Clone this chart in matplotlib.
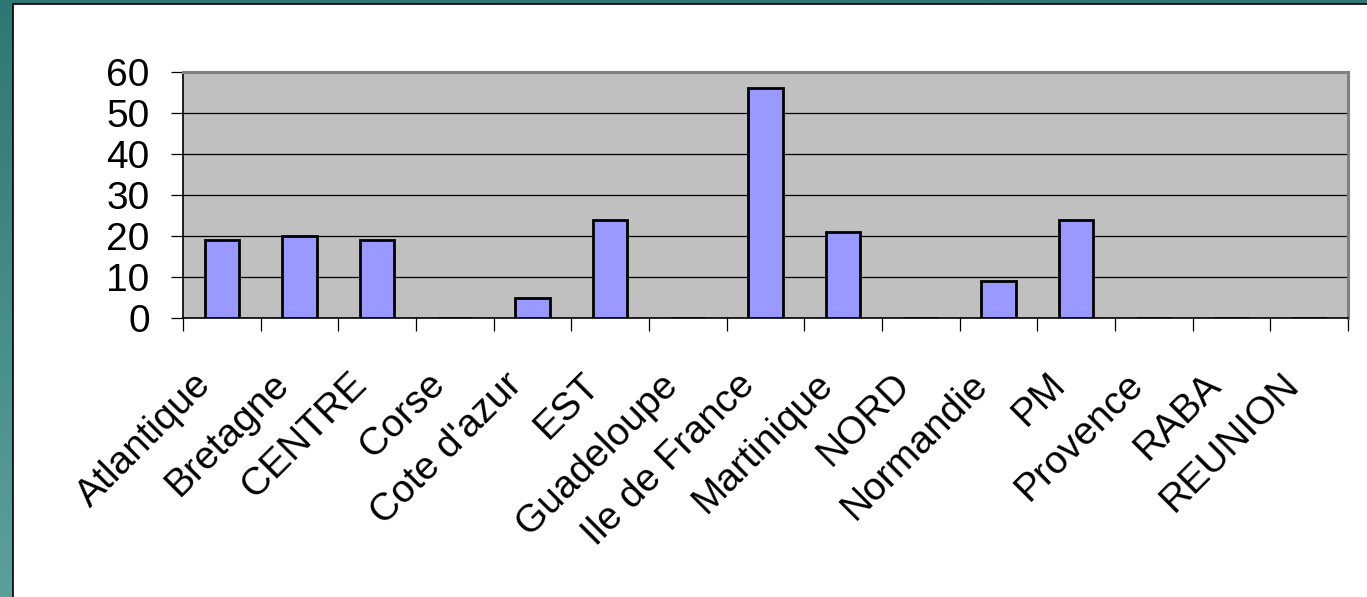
import matplotlib.pyplot as plt
import numpy as np
from matplotlib.patches import Rectangle
from matplotlib.transforms import ScaledTranslation

plt.rcParams['font.family'] = ['Liberation Sans', 'DejaVu Sans']

# Data
regions = ["Atlantique", "Bretagne", "CENTRE", "Corse", "Cote d'azur", "EST",
           "Guadeloupe", "Ile de France", "Martinique", "NORD", "Normandie",
           "PM", "Provence", "RABA", "REUNION"]
counts = [19, 20, 19, 0, 5, 24, 0, 56, 21, 0, 9, 24, 0, 0, 0]
yticks = [0, 10, 20, 30, 40, 50, 60]

W, H = 1367, 597
fig = plt.figure(figsize=(W / 100, H / 100), dpi=100)

# slide-style background: teal strip on left and top
bg = fig.add_axes([0, 0, 1, 1], zorder=-10)
bg.set_axis_off()
bg.set_xlim(0, W)
bg.set_ylim(H, 0)
grad = np.linspace(0, 1, 256).reshape(-1, 1)
top_c = np.array([0x2f, 0x77, 0x74]) / 255
bot_c = np.array([0x5c, 0xa0, 0x9c]) / 255
img = top_c + grad[..., None] * (bot_c - top_c)
bg.imshow(img.reshape(256, 1, 3), extent=[0, W, H, 0], aspect='auto')
bg.add_patch(Rectangle((13, 4), W - 13, H - 4, facecolor='white',
                       edgecolor='none'))
bg.plot([13, 13, W], [H, 4, 4], color='black', lw=1.2)

ax = fig.add_axes([183 / W, 1 - 318 / H, (1348 - 183) / W, (318 - 72) / H])
x = np.arange(len(regions))
ax.bar(x, counts, width=0.44, color='#9999ff', edgecolor='black',
       linewidth=2, zorder=3)

ax.set_facecolor('#c0c0c0')
ax.set_xlim(-0.5, len(regions) - 0.5)
ax.set_ylim(0, 60)
ax.set_yticks(yticks)
ax.yaxis.grid(True, color='black', lw=0.9, zorder=1)
ax.set_axisbelow(True)

ax.set_xticks(np.arange(len(regions) + 1) - 0.5)
ax.set_xticklabels([])
ax.set_xticks(x, minor=True)
ax.set_xticklabels(regions, minor=True, rotation=45, ha='right', va='center',
                   rotation_mode='anchor', fontsize=28)
ax.tick_params(axis='x', which='minor', length=0, pad=44)
ax.tick_params(axis='x', which='major', length=9, width=0.9, direction='out')
ax.tick_params(axis='y', length=9, width=0.9, pad=15, labelsize=28)

shift = ScaledTranslation(-16 / 100, 0, fig.dpi_scale_trans)
for lab in ax.get_xticklabels(minor=True):
    lab.set_transform(lab.get_transform() + shift)

for side in ['top', 'right']:
    ax.spines[side].set_color('#808080')
    ax.spines[side].set_linewidth(2.2)
for side in ['left', 'bottom']:
    ax.spines[side].set_color('black')
    ax.spines[side].set_linewidth(1.2)

fig.savefig("out.png", dpi=100)
